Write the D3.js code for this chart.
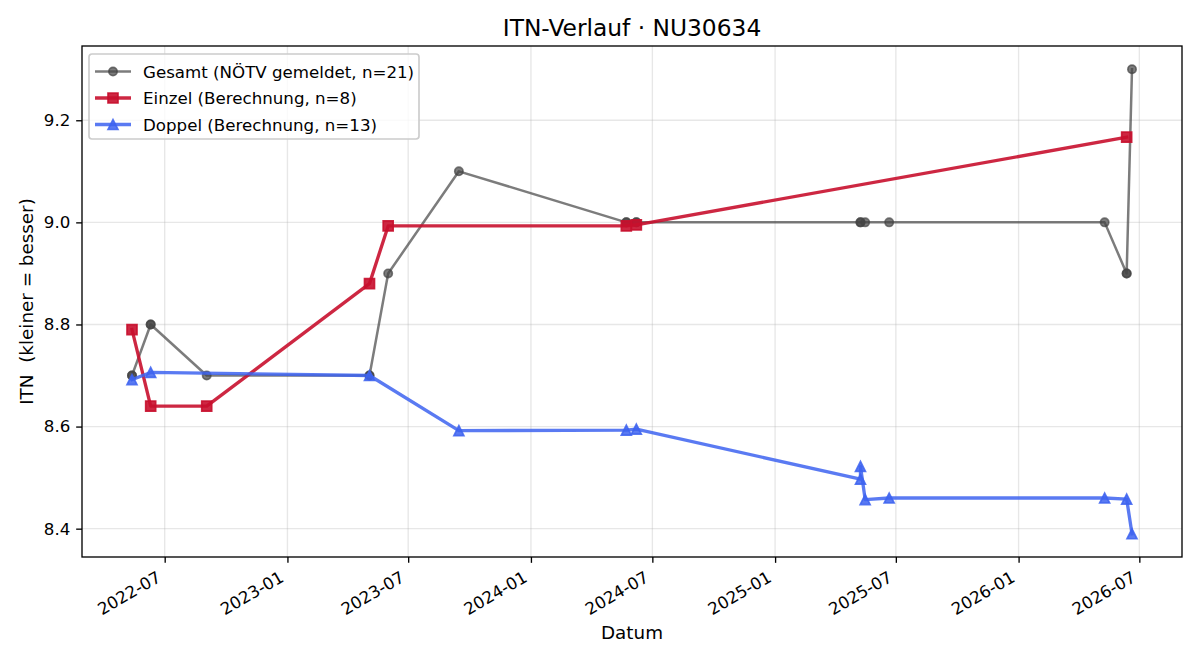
<!DOCTYPE html>
<html>
<head>
<meta charset="utf-8">
<script src="https://cdn.jsdelivr.net/npm/d3@7"></script>
<style>
  body { margin: 0; background: #fff; }
  text { font-family: "DejaVu Sans", sans-serif; white-space: pre; }
</style>
</head>
<body>
<div id="chart"></div>
<script>
// data
const gesamtDates = ["2022-05-13","2022-05-13","2022-06-10","2022-06-10","2022-09-02","2023-05-04","2023-05-04",
  "2023-06-01","2023-09-15","2024-05-23","2024-05-23","2024-06-07","2024-06-07","2025-05-09","2025-05-09",
  "2025-05-16","2025-06-21","2026-05-10","2026-06-12","2026-06-12","2026-06-20"];
const gesamtITN = [8.7, 8.7, 8.8, 8.8, 8.7, 8.7, 8.7, 8.9, 9.1, 9.0, 9.0, 9.0, 9.0, 9.0, 9.0, 9.0, 9.0, 9.0, 8.9, 8.9, 9.3];

const einzelDates = ["2022-05-13","2022-06-10","2022-09-02","2023-05-04","2023-06-01","2024-05-23","2024-06-07","2026-06-12"];
const einzelITN = [8.79, 8.64, 8.64, 8.88, 8.993, 8.993, 8.995, 9.167];

const doppelDates = ["2022-05-13","2022-06-10","2023-05-04","2023-09-15","2024-05-23","2024-06-07","2025-05-09",
  "2025-05-09","2025-05-16","2025-06-21","2026-05-10","2026-06-12","2026-06-20"];
const doppelITN = [8.692, 8.706, 8.70, 8.592, 8.593, 8.595, 8.497, 8.522, 8.457, 8.46, 8.46, 8.458, 8.39];

const yTicks = [8.4, 8.6, 8.8, 9.0, 9.2];
const titleText = "ITN-Verlauf · NU30634";
const xLabel = "Datum";
const yLabel = "ITN  (kleiner = besser)";

const width = 1200, height = 660,
  margin = { top: 46, right: 18, bottom: 103, left: 82 };
const pt = 120 / 72; // matplotlib points -> px

const parse = d3.timeParse("%Y-%m-%d");
const zip = (ds, vs) => ds.map((d, i) => ({ date: parse(d), v: vs[i] }));

const series = [
  { name: "Gesamt (NÖTV gemeldet, n=21)", data: zip(gesamtDates, gesamtITN), color: "#444444", alpha: 0.7, lw: 1.5 * pt, marker: "circle", ms: 5 * pt },
  { name: "Einzel (Berechnung, n=8)", data: zip(einzelDates, einzelITN), color: "#c8102e", alpha: 0.9, lw: 2 * pt, marker: "square", ms: 6 * pt },
  { name: "Doppel (Berechnung, n=13)", data: zip(doppelDates, doppelITN), color: "#3d63f0", alpha: 0.85, lw: 2 * pt, marker: "triangle", ms: 6 * pt }
];

const all = series.flatMap(s => s.data);
const [x0, x1] = d3.extent(all, d => +d.date);
const [y0, y1] = d3.extent(all, d => d.v);
const xPad = (x1 - x0) * 0.05, yPad = (y1 - y0) * 0.05;

const x = d3.scaleTime()
  .domain([new Date(x0 - xPad), new Date(x1 + xPad)])
  .range([margin.left, width - margin.right]);
const y = d3.scaleLinear()
  .domain([y0 - yPad, y1 + yPad])
  .range([height - margin.bottom, margin.top]);

const svg = d3.select("#chart").append("svg")
  .attr("width", width).attr("height", height);

const xTicks = x.ticks(d3.timeMonth.every(6));
const plotB = height - margin.bottom, plotR = width - margin.right;

// grid
svg.append("g").selectAll("line.gx").data(xTicks).join("line")
  .attr("x1", d => x(d)).attr("x2", d => x(d))
  .attr("y1", margin.top).attr("y2", plotB)
  .attr("stroke", "#b0b0b0").attr("stroke-opacity", 0.3).attr("stroke-width", 0.8 * pt);
svg.append("g").selectAll("line.gy").data(yTicks).join("line")
  .attr("x1", margin.left).attr("x2", plotR)
  .attr("y1", d => y(d)).attr("y2", d => y(d))
  .attr("stroke", "#b0b0b0").attr("stroke-opacity", 0.3).attr("stroke-width", 0.8 * pt);

// axes
const fmt = d3.timeFormat("%Y-%m");
const xAxis = svg.append("g")
  .attr("transform", `translate(0,${plotB})`)
  .call(d3.axisBottom(x).tickValues(xTicks).tickFormat(fmt).tickSize(3.5 * pt).tickPadding(0));
xAxis.select(".domain").remove();
xAxis.selectAll("line").attr("stroke", "#000").attr("stroke-width", 0.8 * pt);
xAxis.selectAll("text")
  .attr("font-size", 10 * pt).attr("fill", "#000")
  .attr("text-anchor", "end")
  .attr("y", 0).attr("dy", 0)
  .attr("transform", `translate(-3,${3.5 * pt + 3.5 * pt + 12}) rotate(-30)`);

const yAxis = svg.append("g")
  .attr("transform", `translate(${margin.left},0)`)
  .call(d3.axisLeft(y).tickValues(yTicks).tickFormat(d3.format(".1f")).tickSize(3.5 * pt).tickPadding(3.5 * pt));
yAxis.select(".domain").remove();
yAxis.selectAll("line").attr("stroke", "#000").attr("stroke-width", 0.8 * pt);
yAxis.selectAll("text").attr("font-size", 10 * pt).attr("fill", "#000");

// lines and markers
const line = d3.line().x(d => x(d.date)).y(d => y(d.v));

function markerPath(type, size) {
  const h = size / 2;
  if (type === "circle") return d3.symbol(d3.symbolCircle, Math.PI * h * h)();
  if (type === "square") return `M${-h},${-h}H${h}V${h}H${-h}Z`;
  return `M0,${-h}L${h},${h}L${-h},${h}Z`;
}

series.forEach(s => {
  const g = svg.append("g");
  g.append("path").datum(s.data)
    .attr("d", line)
    .attr("fill", "none")
    .attr("stroke", s.color)
    .attr("stroke-opacity", s.alpha)
    .attr("stroke-width", s.lw)
    .attr("stroke-linejoin", "round")
    .attr("stroke-linecap", "square");
  g.selectAll("path.m").data(s.data).join("path")
    .attr("class", "m")
    .attr("d", markerPath(s.marker, s.ms))
    .attr("transform", d => `translate(${x(d.date)},${y(d.v)})`)
    .attr("fill", s.color).attr("fill-opacity", s.alpha)
    .attr("stroke", s.color).attr("stroke-opacity", s.alpha).attr("stroke-width", 1 * pt);
});

// frame
svg.append("rect")
  .attr("x", margin.left).attr("y", margin.top)
  .attr("width", plotR - margin.left).attr("height", plotB - margin.top)
  .attr("fill", "none").attr("stroke", "#000").attr("stroke-width", 0.8 * pt);

// title and labels
const cx = (margin.left + plotR) / 2;
svg.append("text").attr("x", cx).attr("y", 36)
  .attr("text-anchor", "middle").attr("font-size", 14 * pt).text(titleText);
svg.append("text").attr("x", cx).attr("y", 639)
  .attr("text-anchor", "middle").attr("font-size", 11 * pt).text(xLabel);
svg.append("text")
  .attr("transform", `translate(33,${(margin.top + plotB) / 2}) rotate(-90)`)
  .attr("text-anchor", "middle").attr("font-size", 11 * pt).text(yLabel);

// legend
const lg = svg.append("g").attr("transform", "translate(89,54)");
lg.append("rect")
  .attr("width", 330).attr("height", 85).attr("rx", 3)
  .attr("fill", "#fff").attr("fill-opacity", 0.8)
  .attr("stroke", "#cccccc").attr("stroke-width", 1 * pt);
series.forEach((s, i) => {
  const yy = 17.5 + i * 26.5;
  const row = lg.append("g").attr("transform", `translate(0,${yy})`);
  row.append("line").attr("x1", 6).attr("x2", 42).attr("y1", 0).attr("y2", 0)
    .attr("stroke", s.color).attr("stroke-opacity", s.alpha).attr("stroke-width", s.lw);
  row.append("path").attr("d", markerPath(s.marker, s.ms))
    .attr("transform", "translate(24,0)")
    .attr("fill", s.color).attr("fill-opacity", s.alpha)
    .attr("stroke", s.color).attr("stroke-opacity", s.alpha).attr("stroke-width", 1 * pt);
  row.append("text").attr("x", 54).attr("y", 6)
    .attr("font-size", 10 * pt).text(s.name);
});
</script>
</body>
</html>
